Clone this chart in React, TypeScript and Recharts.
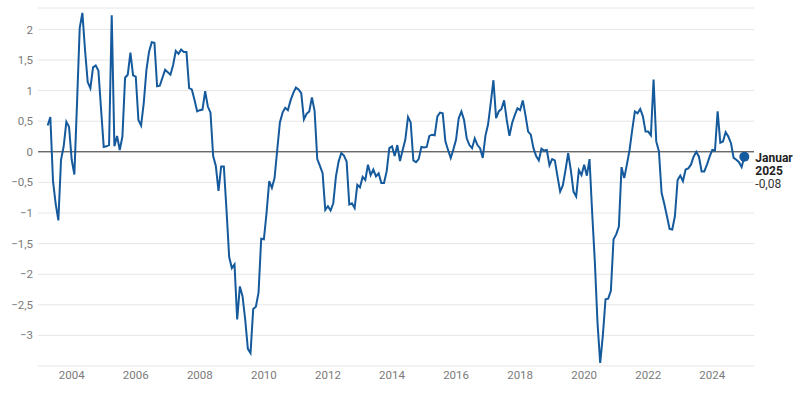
import { LineChart, Line, XAxis, YAxis, CartesianGrid, ReferenceLine } from "recharts";

const START_YEAR = 2003;
const START_MONTH = 4; // first value is April 2003

// monthly values, one line per calendar year
const VALUES = [
  0.43, 0.57, -0.48, -0.85, -1.12, -0.13, 0.09, 0.49, 0.41, // 2003 (Apr-Dec)
  -0.13, -0.37, 0.8, 2.02, 2.27, 1.66, 1.14, 1.04, 1.38, 1.41, 1.33, 0.7, // 2004
  0.08, 0.09, 0.11, 2.23, 0.09, 0.26, 0.03, 0.25, 1.21, 1.26, 1.62, 1.25, // 2005
  1.23, 0.52, 0.43, 0.8, 1.34, 1.64, 1.79, 1.78, 1.07, 1.08, 1.21, 1.34, // 2006
  1.3, 1.26, 1.42, 1.65, 1.6, 1.67, 1.63, 1.63, 1.04, 1.02, 0.85, 0.66, // 2007
  0.68, 0.69, 0.99, 0.74, 0.64, -0.07, -0.23, -0.64, -0.24, -0.24, -0.95, -1.72, // 2008
  -1.9, -1.84, -2.74, -2.2, -2.36, -2.74, -3.22, -3.29, -2.57, -2.53, -2.3, -1.42, // 2009
  -1.43, -1.0, -0.48, -0.59, -0.43, 0.03, 0.48, 0.64, 0.72, 0.68, 0.84, 0.96, // 2010
  1.05, 1.02, 0.96, 0.53, 0.62, 0.66, 0.89, 0.67, -0.12, -0.23, -0.35, -0.95, // 2011
  -0.89, -0.96, -0.84, -0.4, -0.16, -0.02, -0.06, -0.16, -0.86, -0.84, -0.92, -0.54, // 2012
  -0.58, -0.41, -0.46, -0.21, -0.38, -0.29, -0.4, -0.35, -0.51, -0.51, -0.32, 0.06, // 2013
  0.09, -0.07, 0.11, -0.15, 0.03, 0.2, 0.57, 0.48, -0.14, -0.17, -0.12, 0.08, // 2014
  0.07, 0.08, 0.26, 0.28, 0.27, 0.58, 0.64, 0.63, 0.17, 0.03, -0.1, 0.04, // 2015
  0.2, 0.55, 0.66, 0.52, 0.22, 0.11, 0.06, 0.22, 0.11, 0.06, -0.1, 0.26, // 2016
  0.45, 0.8, 1.17, 0.55, 0.66, 0.7, 0.84, 0.52, 0.26, 0.47, 0.6, 0.71, // 2017
  0.68, 0.84, 0.6, 0.33, 0.28, 0.06, -0.07, -0.14, 0.05, 0.02, 0.03, -0.22, // 2018
  -0.12, -0.14, -0.4, -0.65, -0.55, -0.3, -0.02, -0.3, -0.65, -0.73, -0.3, -0.38, // 2019
  -0.21, -0.39, -0.12, -1.0, -1.8, -2.8, -3.45, -3.0, -2.41, -2.4, -2.27, -1.43, // 2020
  -1.35, -1.22, -0.25, -0.43, -0.21, 0.03, 0.36, 0.66, 0.63, 0.7, 0.58, 0.33, // 2021
  0.33, 0.27, 1.18, 0.17, 0.01, -0.67, -0.85, -1.05, -1.26, -1.27, -1.05, -0.46, // 2022
  -0.39, -0.48, -0.29, -0.27, -0.21, -0.08, 0.0, -0.08, -0.32, -0.32, -0.21, -0.08, // 2023
  0.03, 0.02, 0.66, 0.15, 0.17, 0.32, 0.25, 0.14, -0.1, -0.13, -0.17, -0.25, // 2024
  -0.08, // 2025 (Jan)
];

const MONTH_NAMES = [
  "Januar", "Februar", "März", "April", "Mai", "Juni",
  "Juli", "August", "September", "Oktober", "November", "Dezember",
];

const X_TICKS = [2004, 2006, 2008, 2010, 2012, 2014, 2016, 2018, 2020, 2022, 2024];
const Y_TICKS = [-3, -2.5, -2, -1.5, -1, -0.5, 0, 0.5, 1, 1.5, 2];

const BLUE = "#155a9c";
const FONT = "Roboto, sans-serif";

const DATA = VALUES.map((value, i) => {
  const m = START_MONTH - 1 + i;
  return {
    t: START_YEAR + m / 12,
    year: START_YEAR + Math.floor(m / 12),
    month: m % 12,
    value,
  };
});

function formatDe(v: number) {
  return String(v).replace(".", ",");
}

function formatTick(v: number) {
  return formatDe(v).replace("-", "\u2212");
}

function LastPoint(props: any) {
  const { cx, cy, index } = props;
  if (index !== DATA.length - 1) return <g key={`dot-${index}`} />;
  const d = DATA[index];
  return (
    <g key={`dot-${index}`}>
      <circle cx={cx} cy={cy} r={5} fill={BLUE} />
      <text x={cx + 11} y={cy + 5.5} fontSize={12} fontWeight={700} fill="#222" fontFamily={FONT}>
        {MONTH_NAMES[d.month]}
      </text>
      <text x={cx + 11} y={cy + 18.5} fontSize={12} fontWeight={700} fill="#222" fontFamily={FONT}>
        {d.year}
      </text>
      <text x={cx + 11} y={cy + 31.5} fontSize={12} fill="#333" fontFamily={FONT}>
        {d.value.toFixed(2).replace(".", ",")}
      </text>
    </g>
  );
}

export default function App() {
  return (
    <div style={{ width: 800, height: 400, fontFamily: FONT, background: "#fff" }}>
      <style>{"body{margin:0}"}</style>
      <LineChart
        width={800}
        height={400}
        data={DATA}
        margin={{ top: 8, right: 46, bottom: 0, left: 0 }}
      >
        <CartesianGrid vertical={false} stroke="#e6e6e6" />
        <XAxis
          dataKey="t"
          type="number"
          domain={[2002.948, 2025.302]}
          ticks={X_TICKS}
          interval={0}
          axisLine={false}
          tickLine={false}
          tickSize={0}
          tickMargin={5}
          height={34}
          tick={{ fontSize: 11.5, fill: "#7a7a7a", fontFamily: FONT }}
        />
        <YAxis
          type="number"
          domain={[-3.5, 2.35]}
          ticks={Y_TICKS}
          interval={0}
          width={38}
          axisLine={false}
          tickLine={false}
          tickSize={0}
          tickMargin={5}
          tickFormatter={formatTick}
          tick={{ fontSize: 11.5, fill: "#7a7a7a", fontFamily: FONT }}
        />
        <ReferenceLine y={0} stroke="#333" strokeWidth={1} />
        <Line
          type="linear"
          dataKey="value"
          stroke={BLUE}
          strokeWidth={2}
          dot={LastPoint}
          activeDot={false}
          isAnimationActive={false}
        />
      </LineChart>
    </div>
  );
}
